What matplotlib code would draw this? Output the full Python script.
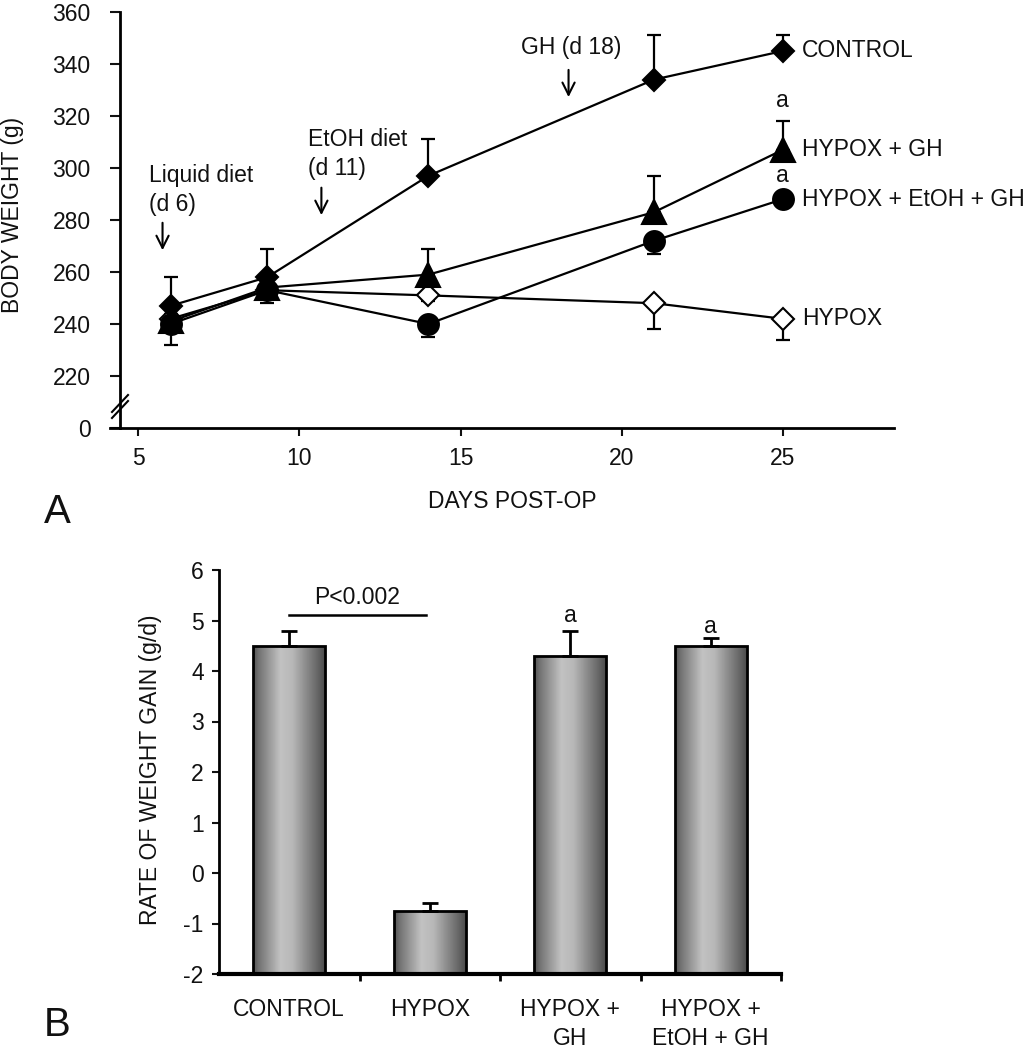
import numpy as np
import matplotlib
matplotlib.use("Agg")
import matplotlib.pyplot as plt

plt.rcParams['font.family'] = ['Liberation Sans', 'DejaVu Sans']
plt.rcParams['axes.unicode_minus'] = False
FS = 16.5

# ---------------- Panel A data ----------------
days = [6, 9, 14, 21, 25]
control = [247, 258, 297, 334, 345]
control_err = [11, 11, 14, 17, 6]
hypox_gh = [241, 254, 259, 283, 307]
hypox_gh_err = [3, 4, 10, 14, 11]
hypox_etoh_gh = [240, 253, 240, 272, 288]
hypox_etoh_gh_err = [8, 5, 5, 5, 2]
hypox = [242, 253, 251, 248, 242]
hypox_err = [3, 3, 2, 10, 8]

y_ticks_a = [200, 220, 240, 260, 280, 300, 320, 340, 360]
y_ticklabels_a = ["0", "220", "240", "260", "280", "300", "320", "340", "360"]
x_ticks_a = [5, 10, 15, 20, 25]

# ---------------- Panel B data ----------------
groups = ["CONTROL", "HYPOX", "HYPOX +\nGH", "HYPOX +\nEtOH + GH"]
rate = [4.5, -0.75, 4.3, 4.5]
rate_err = [0.3, 0.15, 0.5, 0.15]
y_ticks_b = [-2, -1, 0, 1, 2, 3, 4, 5, 6]

W, H = 1030, 1050
fig = plt.figure(figsize=(W / 100, H / 100), dpi=100)

def fx(px):
    return px / W

def fy(py):
    return 1 - py / H

# ================= Panel A =================
axA = fig.add_axes([fx(120), fy(428), fx(894) - fx(120), fy(12) - fy(428)])
axA.set_xlim(4.43, 28.45)
axA.set_ylim(200, 360)
for s in ['top', 'right']:
    axA.spines[s].set_visible(False)
axA.spines['left'].set_linewidth(2)
axA.spines['bottom'].set_linewidth(2)
axA.set_yticks(y_ticks_a)
axA.set_yticklabels(y_ticklabels_a)
axA.set_xticks(x_ticks_a)
axA.tick_params(axis='y', direction='out', length=7.2, width=1.5, pad=14, labelsize=FS, colors='#111111')
axA.tick_params(axis='x', direction='out', length=5.5, width=1.5, pad=8, labelsize=FS, colors='#111111')
# extend x axis slightly left of the y axis
axA.plot([-10 / 774, 0], [0, 0], transform=axA.transAxes, color='black', lw=2, clip_on=False)
# axis break marks
for dy in [0, 6]:
    axA.plot([-8 / 774, 8 / 774], [(428 - 412 - dy) / 416, (428 - 395 - dy) / 416],
             transform=axA.transAxes, color='black', lw=1.5, clip_on=False)

lw = 1.6
def series(vals, err, marker, ms, mfc, upper):
    yerr = [np.zeros(len(err)), err] if upper else [err, np.zeros(len(err))]
    axA.errorbar(days, vals, yerr=yerr, fmt='none', ecolor='black', elinewidth=lw,
                 capsize=5, capthick=lw, zorder=2)
    axA.plot(days, vals, color='black', lw=lw, marker=marker, ms=ms, mfc=mfc,
             mec='black', mew=1.5, zorder=3)

series(hypox, hypox_err, 'D', 11.5, 'white', False)
series(hypox_etoh_gh, hypox_etoh_gh_err, 'o', 15, 'black', False)
series(hypox_gh, hypox_gh_err, '^', 17, 'black', True)
series(control, control_err, 'D', 11.5, 'black', True)

for name, vals in [("CONTROL", control), ("HYPOX + GH", hypox_gh),
                   ("HYPOX + EtOH + GH", hypox_etoh_gh), ("HYPOX", hypox)]:
    axA.annotate(name, xy=(days[-1], vals[-1]), xytext=(14, 0), textcoords='offset points',
                 ha='left', va='center', fontsize=FS, color='#111111', annotation_clip=False)

axA.text(25, 326, "a", ha='center', va='center', fontsize=FS, color='#111111')
axA.text(25, 297, "a", ha='center', va='center', fontsize=FS, color='#111111')

arrow_kw = dict(arrowstyle='->', lw=1.5, color='black', mutation_scale=22)
axA.annotate('', xy=(5.75, 267.3), xytext=(5.75, 280), arrowprops=arrow_kw)
axA.annotate('', xy=(10.68, 280.8), xytext=(10.68, 293.5), arrowprops=arrow_kw)
axA.annotate('', xy=(18.35, 326.2), xytext=(18.35, 338.8), arrowprops=arrow_kw)
axA.text(5.34, 291.5, "Liquid diet\n(d 6)", ha='left', va='center', fontsize=FS,
         linespacing=1.3, color='#111111')
axA.text(10.25, 305.4, "EtOH diet\n(d 11)", ha='left', va='center', fontsize=FS,
         linespacing=1.3, color='#111111')
axA.text(16.86, 346.2, "GH (d 18)", ha='left', va='center', fontsize=FS, color='#111111')

fig.text(fx(13), fy(215), "BODY WEIGHT (g)", rotation=90, ha='center', va='center',
         fontsize=FS, color='#111111')
fig.text(fx(512), fy(502), "DAYS POST-OP", ha='center', va='center', fontsize=FS, color='#111111')
fig.text(fx(57), fy(512), "A", ha='center', va='center', fontsize=29, color='#111111')

# ================= Panel B =================
axB = fig.add_axes([fx(219), fy(974), fx(781) - fx(219), fy(570) - fy(974)])
axB.set_xlim(-0.5, 3.5)
axB.set_ylim(-2, 6)
for s in ['top', 'right']:
    axB.spines[s].set_visible(False)
axB.spines['left'].set_linewidth(2)
axB.spines['bottom'].set_linewidth(3)
axB.set_yticks(y_ticks_b)
axB.tick_params(axis='y', direction='out', length=5, width=1.5, pad=6, labelsize=FS, colors='#111111')
xpos = np.arange(len(groups))
axB.set_xticks(xpos + 0.5)
axB.set_xticklabels([])
axB.tick_params(axis='x', direction='out', length=5, width=2)
label_tr = axB.transData + matplotlib.transforms.ScaledTranslation(0, -24 / 100, fig.dpi_scale_trans)
for i, g in enumerate(groups):
    axB.text(i, -2, g, transform=label_tr, ha='center', va='top', fontsize=FS,
             linespacing=1.35, color='#111111')

base = -2
bars = axB.bar(xpos, np.array(rate) - base, bottom=base, width=0.51, facecolor='none',
               edgecolor='black', linewidth=2, zorder=3)
grad = np.interp(np.linspace(0, 1, 256), [0, 0.08, 0.38, 0.55, 0.9, 1.0],
                 [0.32, 0.45, 0.76, 0.72, 0.40, 0.30])
for rect in bars:
    x0, y0 = rect.get_x(), rect.get_y()
    im = axB.imshow(grad[None, :], cmap='gray', vmin=0, vmax=1, aspect='auto',
                    extent=[x0, x0 + rect.get_width(), y0, y0 + rect.get_height()], zorder=2)
    im.set_clip_path(rect)
axB.set_xlim(-0.5, 3.5)
axB.set_ylim(-2, 6)
axB.errorbar(xpos, rate, yerr=[np.zeros(len(rate)), rate_err], fmt='none', ecolor='black',
             elinewidth=2, capsize=6, capthick=2, zorder=4)

axB.plot([0.0, 0.97], [5.1, 5.1], color='black', lw=1.8)
axB.text(0.48, 5.45, "P<0.002", ha='center', va='center', fontsize=FS, color='#111111')
axB.text(2, 5.09, "a", ha='center', va='center', fontsize=FS, color='#111111')
axB.text(3, 4.89, "a", ha='center', va='center', fontsize=FS, color='#111111')

fig.text(fx(151), fy(770), "RATE OF WEIGHT GAIN (g/d)", rotation=90, ha='center', va='center',
         fontsize=FS, color='#111111')
fig.text(fx(57), fy(1025), "B", ha='center', va='center', fontsize=29, color='#111111')

fig.savefig("out.png", dpi=100)
